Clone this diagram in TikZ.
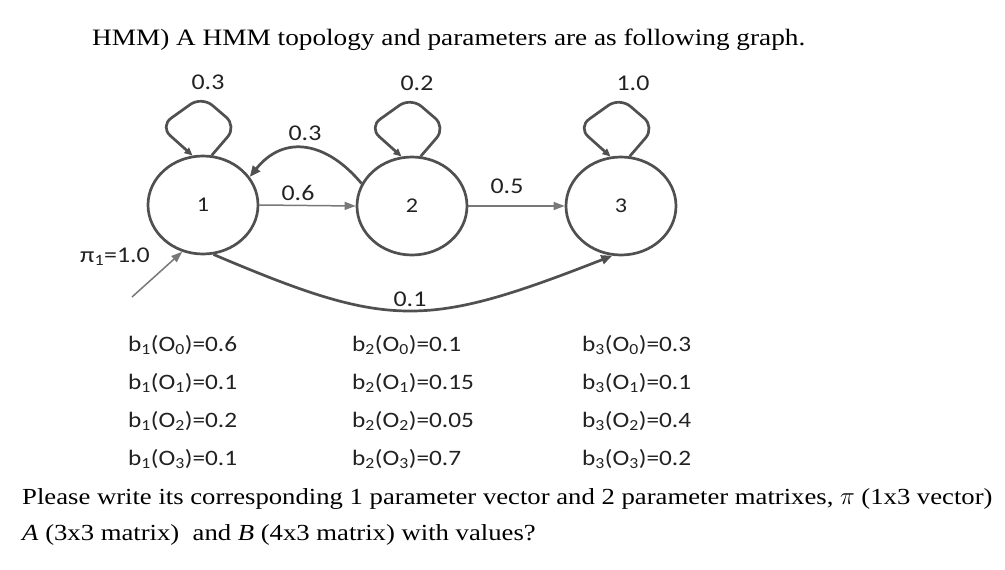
\documentclass[tikz,border=0pt]{standalone}
\usepackage{fontspec}
\setmainfont{Liberation Serif}[FakeStretch=1.16]
\newfontfamily\cfont{Carlito}[FakeStretch=1.15]
\usetikzlibrary{arrows.meta,shapes.geometric,calc}
\definecolor{edgegray}{HTML}{505050}
\definecolor{thingray}{HTML}{787878}
\definecolor{txt}{HTML}{222222}
\newcommand{\sbx}[1]{\textsubscript{#1}}
\begin{document}
\begin{tikzpicture}[x=1pt,y=-1pt,
 state/.style={ellipse,draw=edgegray,line width=2.7pt,minimum width=110pt,minimum height=98pt,inner sep=0pt,font=\cfont\fontsize{21}{25}\selectfont,text=txt},
 thickarr/.style={draw=edgegray,line width=2.7pt,-{Triangle[length=11pt,width=9pt]}},
 looparr/.style={draw=edgegray,line width=2.7pt,rounded corners=14pt,-{Triangle[length=8pt,width=7pt]}},
 thinarr/.style={draw=thingray,line width=1.5pt,-{Triangle[length=11pt,width=8pt]}},
 lbl/.style={font=\cfont\fontsize{22.5}{26}\selectfont,text=txt,inner sep=0pt},
 emis/.style={font=\cfont\fontsize{22}{26}\selectfont,text=txt,anchor=west,inner sep=0pt},
 serif/.style={font=\fontsize{23}{27}\selectfont,text=black,anchor=west,inner sep=0pt}
]
\useasboundingbox (0,0) rectangle (1005,570);
\fill[white] (0,0) rectangle (1005,570);

\node[serif,font=\fontsize{23.5}{27}\selectfont] (title) at (92,40) {HMM) A HMM topology and parameters are as following graph.};

\node[state] (n1) at (203,205) {1};
\node[state] (n2) at (412,206) {2};
\node[state] (n3) at (621,206) {3};

% self loops
\draw[looparr] (n1.80) -- ++(25,-29) -- ++(-35,-30) -- ++(-42,30) -- (n1.102);
\draw[looparr] (n2.80) -- ++(25,-29) -- ++(-35,-30) -- ++(-42,30) -- (n2.102);
\draw[looparr] (n3.80) -- ++(25,-29) -- ++(-35,-30) -- ++(-42,30) -- (n3.102);
\node[lbl] (l11) at (208,82) {0.3};
\node[lbl] (l22) at (417,83) {0.2};
\node[lbl] (l33) at (633,83) {1.0};

% transitions
\draw[thickarr] (n2.156) .. controls (328,143) and (285,133) .. (n1.31);
\node[lbl] (l21) at (305,133) {0.3};
\draw[thinarr] (n1.east) -- (n2.west);
\node[lbl] (l12) at (298,193) {0.6};
\draw[thinarr] (n2.east) -- (n3.west);
\node[lbl] (l23) at (507,186) {0.5};
\draw[thickarr] (n1.282) .. controls (389,329) and (425,329) .. (n3.260);
\node[lbl] (l13) at (410,299) {0.1};

% initial
\coordinate (pistart) at (132,297);
\draw[thinarr] (pistart) -- (n1.246);
\node[lbl,anchor=west] (pi) at (80,257) {π\sbx{1}=1.0};

% emissions
\node[emis] (b10) at (128,345) {b\sbx{1}(O\sbx{0})=0.6};
\node[emis] (b11) at (128,383) {b\sbx{1}(O\sbx{1})=0.1};
\node[emis] (b12) at (128,421) {b\sbx{1}(O\sbx{2})=0.2};
\node[emis] (b13) at (128,459) {b\sbx{1}(O\sbx{3})=0.1};
\node[emis] (b20) at (352,345) {b\sbx{2}(O\sbx{0})=0.1};
\node[emis] (b21) at (352,383) {b\sbx{2}(O\sbx{1})=0.15};
\node[emis] (b22) at (352,421) {b\sbx{2}(O\sbx{2})=0.05};
\node[emis] (b23) at (352,459) {b\sbx{2}(O\sbx{3})=0.7};
\node[emis] (b30) at (582,345) {b\sbx{3}(O\sbx{0})=0.3};
\node[emis] (b31) at (582,383) {b\sbx{3}(O\sbx{1})=0.1};
\node[emis] (b32) at (582,421) {b\sbx{3}(O\sbx{2})=0.4};
\node[emis] (b33) at (582,459) {b\sbx{3}(O\sbx{3})=0.2};

\node[serif] (q1) at (22,499) {Please write its corresponding 1 parameter vector and 2 parameter matrixes, $\pi$ (1x3 vector)};
\node[serif] (q2) at (22,535) {\textit{A} (3x3 matrix)\ \ and \textit{B} (4x3 matrix) with values?};
\end{tikzpicture}
\end{document}
